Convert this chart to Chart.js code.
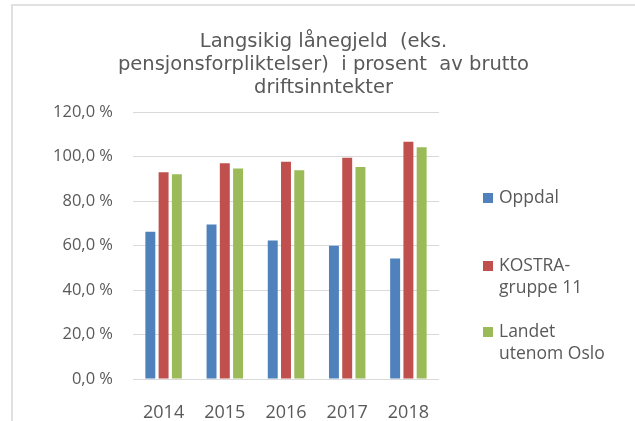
<!DOCTYPE html>
<html>
<head>
<meta charset="utf-8">
<script src="https://cdn.jsdelivr.net/npm/chart.js@4.4.0/dist/chart.umd.min.js"></script>
<style>
  html, body { margin: 0; padding: 0; background: #fff; overflow: hidden; }
  #wrap { position: relative; width: 635px; height: 421px; }
  #ramme { position: absolute; left: 11px; top: 4px; width: 700px; height: 500px; border: 2px solid #e1e1e1; box-sizing: border-box; }
  #myChart { position: absolute; left: 0; top: 0; }
</style>
</head>
<body>
<div id="wrap">
  <div id="ramme"></div>
  <canvas id="myChart" width="635" height="421"></canvas>
</div>
<script>
// Data lest av bildet
const aar = ["2014", "2015", "2016", "2017", "2018"];
const oppdal = [66.2, 69.5, 62.3, 59.9, 54.2];
const kostra11 = [92.9, 97.0, 97.7, 99.4, 106.6];
const landetUtenOslo = [92.0, 94.6, 93.8, 95.3, 104.2];
const seriesNavn = ["Oppdal", "KOSTRA-gruppe 11", "Landet utenom Oslo"];
const legendLinjer = [["Oppdal"], ["KOSTRA-", "gruppe 11"], ["Landet", "utenom Oslo"]];
const farger = ["#4f81bd", "#c0504d", "#9bbb59"];
const tittel = ["Langsikig lånegjeld  (eks.", "pensjonsforpliktelser)  i prosent  av brutto", "driftsinntekter"];

const tekstFarge = "#595959";

// Egen legende til høyre, med tekst over flere linjer
const legendePlugin = {
  id: "legende",
  afterDraw(chart) {
    const ctx = chart.ctx;
    const ySenter = [198, 266, 332]; // midtpunkt for hver oppføring
    ctx.save();
    ctx.font = "17.5px 'Open Sans'";
    ctx.fillStyle = tekstFarge;
    ctx.textBaseline = "middle";
    chart.data.datasets.forEach((ds, i) => {
      const y = ySenter[i];
      ctx.fillStyle = ds.backgroundColor;
      ctx.fillRect(483, y - 5, 10, 10);
      ctx.fillStyle = tekstFarge;
      legendLinjer[i].forEach((linje, j) => {
        ctx.fillText(linje, 499, y + j * 22.5);
      });
    });
    ctx.restore();
  }
};

const ctx = document.getElementById("myChart").getContext("2d");
new Chart(ctx, {
  type: "bar",
  data: {
    labels: aar,
    datasets: [
      { label: seriesNavn[0], data: oppdal, backgroundColor: farger[0] },
      { label: seriesNavn[1], data: kostra11, backgroundColor: farger[1] },
      { label: seriesNavn[2], data: landetUtenOslo, backgroundColor: farger[2] },
    ],
  },
  options: {
    responsive: false,
    animation: false,
    devicePixelRatio: 1,
    layout: { padding: { left: 12, right: 0, top: 0, bottom: 0 } },
    datasets: {
      bar: { categoryPercentage: 0.65, barPercentage: 0.75 },
    },
    plugins: {
      legend: { display: false },
      tooltip: { enabled: false },
      title: {
        display: true,
        text: tittel,
        color: tekstFarge,
        font: { family: "'DejaVu Sans'", size: 19.5, weight: "normal", lineHeight: 1.18 },
        padding: { top: 30, bottom: 13 },
      },
    },
    scales: {
      x: {
        grid: { display: false },
        border: { display: false },
        ticks: { color: tekstFarge, font: { family: "'Open Sans'", size: 18 }, padding: 15 },
        afterFit(scale) { scale.height = 42; },
      },
      y: {
        min: 0,
        max: 120,
        grid: { color: "#d9d9d9", lineWidth: 1, drawTicks: false },
        border: { display: false },
        ticks: {
          stepSize: 20,
          padding: 20,
          color: tekstFarge,
          font: { family: "'Open Sans'", size: 16.5 },
          callback: (v) => v.toFixed(1).replace(".", ",") + " %",
        },
        afterFit(scale) { scale.width = 121; },
      },
      // tom akse til høyre som holder plass til legenden
      hoyre: {
        type: "linear",
        position: "right",
        display: true,
        grid: { display: false },
        border: { display: false },
        ticks: { display: false },
        afterFit(scale) { scale.width = 196; },
      },
    },
  },
  plugins: [legendePlugin],
});
</script>
</body>
</html>
